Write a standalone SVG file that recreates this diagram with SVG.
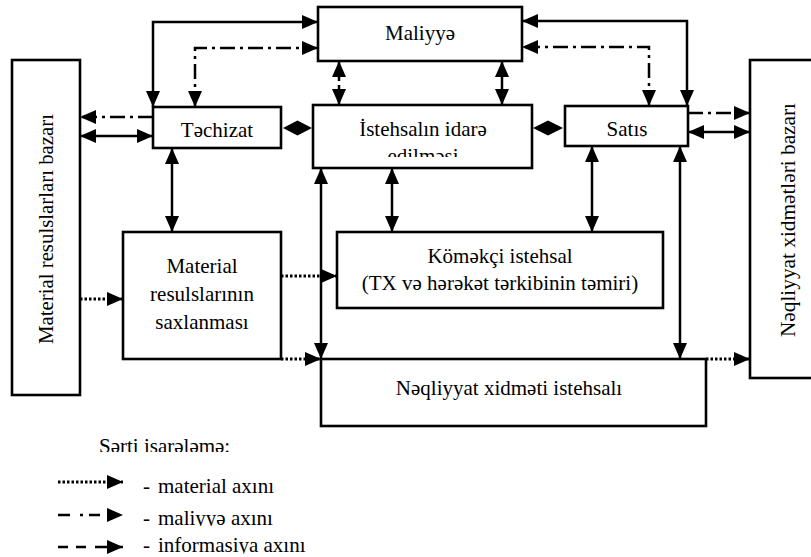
<svg xmlns="http://www.w3.org/2000/svg" width="811" height="557" viewBox="0 0 811 557">
<style>
.box{fill:#fff;stroke:#000;stroke-width:2.6}
.t{font-family:"Liberation Serif","Times New Roman",serif;font-size:21px;fill:#000}
.c{text-anchor:middle}
.ln{fill:none;stroke:#000;stroke-width:2.5}
.dd{stroke-dasharray:15 5 3 5}
.dot{stroke-dasharray:2.5 2;stroke-width:3}
.dsh{stroke-dasharray:8 4}
.dia{fill:#000}
</style>
<defs>
<marker id="a" markerUnits="userSpaceOnUse" markerWidth="16" markerHeight="14" refX="16" refY="7" orient="auto-start-reverse" viewBox="0 0 16 14">
<path d="M0,0 L16,7 L0,14 Z" fill="#000"/>
</marker>
<clipPath id="cIst"><rect x="313" y="100" width="220" height="57"/></clipPath>
<clipPath id="cSat"><rect x="565" y="100" width="123" height="36.5"/></clipPath>
<clipPath id="cL1"><rect x="0" y="425" width="400" height="27"/></clipPath>
<clipPath id="cL2"><rect x="0" y="500" width="400" height="26"/></clipPath>
<clipPath id="cL3"><rect x="0" y="530" width="400" height="23.5"/></clipPath>
</defs>
<rect width="811" height="557" fill="#fff"/>

<g id="connectors">
<path class="ln" d="M153,107 V22 H318" marker-start="url(#a)" marker-end="url(#a)"/>
<path class="ln dd" d="M195,107 V48 H318" marker-start="url(#a)" marker-end="url(#a)"/>
<path class="ln" d="M687,106 V21 H522" marker-start="url(#a)" marker-end="url(#a)"/>
<path class="ln dd" d="M649,106 V47 H522" marker-start="url(#a)" marker-end="url(#a)"/>
<path class="ln dd" d="M153,117 H80" marker-end="url(#a)"/>
<path class="ln" d="M80,136 H153" marker-start="url(#a)" marker-end="url(#a)"/>
<path class="ln dd" d="M688,113 H750" marker-end="url(#a)"/>
<path class="ln" d="M688,132 H750" marker-start="url(#a)" marker-end="url(#a)"/>
<path class="ln dsh" d="M339,61 V105" marker-start="url(#a)" marker-end="url(#a)"/>
<path class="ln" d="M502,61 V105" marker-start="url(#a)" marker-end="url(#a)"/>
<path class="ln" d="M172,148 V232" marker-start="url(#a)" marker-end="url(#a)"/>
<path class="ln" d="M321,168 V359" marker-start="url(#a)" marker-end="url(#a)"/>
<path class="ln" d="M392,168 V232" marker-start="url(#a)" marker-end="url(#a)"/>
<path class="ln" d="M592,146 V232" marker-start="url(#a)" marker-end="url(#a)"/>
<path class="ln" d="M680,146 V359" marker-start="url(#a)" marker-end="url(#a)"/>
<path class="ln dot" d="M80,299 H123" marker-end="url(#a)"/>
<path class="ln dot" d="M281,276 H337" marker-end="url(#a)"/>
<path class="ln dot" d="M281,359 H321" marker-end="url(#a)"/>
<path class="ln dot" d="M706,359 H750" marker-end="url(#a)"/>
<polygon class="dia" points="283,128 297.5,120.5 312,128 297.5,135.5"/>
<polygon class="dia" points="533,128 548,120.5 563,128 548,135.5"/>
</g>

<g id="material-market">
<rect class="box" x="12" y="60" width="68" height="335"/>
<text class="t c" transform="translate(53,229) rotate(-90)" style="font-size:22px" textLength="230" lengthAdjust="spacingAndGlyphs">Material resulslarları bazarı</text>
</g>
<g id="techizat">
<rect class="box" x="153" y="107" width="128" height="41"/>
<text class="t c" x="217" y="137">Təchizat</text>
</g>
<g id="maliyye">
<rect class="box" x="318" y="7" width="204" height="54"/>
<text class="t c" x="420" y="40">Maliyyə</text>
</g>
<g id="istehsal-idare">
<rect class="box" x="313" y="105" width="219" height="63"/>
<text class="t c" clip-path="url(#cIst)"><tspan x="423" y="136">İstehsalın idarə</tspan><tspan x="423" y="163">edilməsi</tspan></text>
</g>
<g id="satis">
<rect class="box" x="565" y="106" width="123" height="40"/>
<text class="t c" x="627" y="136" clip-path="url(#cSat)">Satış</text>
</g>
<g id="service-market">
<rect class="box" x="750" y="60" width="70" height="318"/>
<text class="t c" transform="translate(795,220) rotate(-90)" style="font-size:21.5px" textLength="234" lengthAdjust="spacingAndGlyphs">Nəqliyyat xidmətləri bazarı</text>
</g>
<g id="saxlanma">
<rect class="box" x="123" y="232" width="158" height="127"/>
<text class="t c"><tspan x="202" y="273">Material</tspan><tspan x="202" y="301">resulslarının</tspan><tspan x="202" y="329">saxlanması</tspan></text>
</g>
<g id="komekci">
<rect class="box" x="337" y="232" width="326" height="76"/>
<text class="t c"><tspan x="500" y="263">Köməkçi istehsal</tspan><tspan x="500" y="290">(TX və hərəkət tərkibinin təmiri)</tspan></text>
</g>
<g id="neqliyyat">
<rect class="box" x="321" y="359" width="385" height="67"/>
<text class="t c" x="509" y="395">Nəqliyyat xidməti istehsalı</text>
</g>

<g id="legend">
<text class="t" x="99" y="453" clip-path="url(#cL1)">Şərti işarələmə:</text>
<path class="ln dot" d="M58,482 H123" marker-end="url(#a)"/>
<path class="ln" d="M58,515 H123" style="stroke-dasharray:12 10 3 6 11 30" marker-end="url(#a)"/>
<path class="ln" d="M58,547 H123" style="stroke-dasharray:10 8 10 9 30" marker-end="url(#a)"/>
<text class="t" x="143" y="493">-<tspan x="158">material axını</tspan></text>
<text class="t" x="143" y="525" clip-path="url(#cL2)">-<tspan x="158">maliyyə axını</tspan></text>
<text class="t" x="143" y="552" clip-path="url(#cL3)">-<tspan x="158">informasiya axını</tspan></text>
</g>
</svg>
